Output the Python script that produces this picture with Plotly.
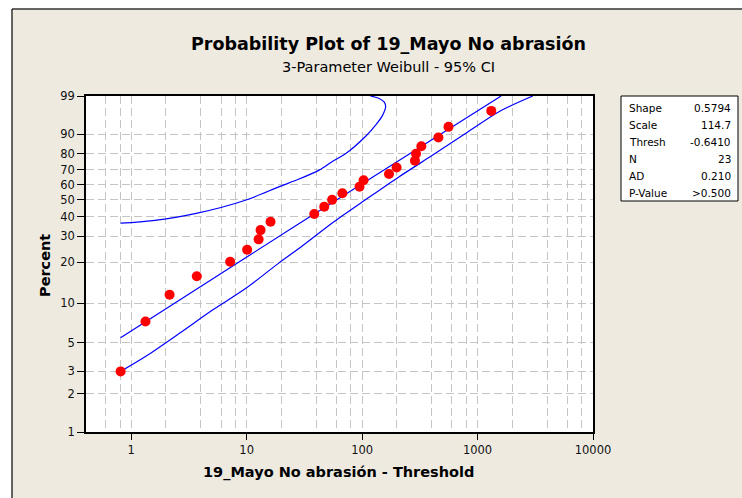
import numpy as np
import plotly.graph_objects as go

# ---- data ----
pct_ticks = [1, 2, 3, 5, 10, 20, 30, 40, 50, 60, 70, 80, 90, 99]
x_ticks = [1, 10, 100, 1000, 10000]
x_ticktext = ["1", "10", "100", "1000", "10000"]
x_minor_grid = [0.6, 0.8, 2, 4, 6, 8, 20, 40, 60, 80, 200, 400, 600, 800,
                2000, 4000, 6000, 8000]

data_x = [0.81, 1.33, 2.15, 3.7, 7.2, 10.1, 12.7, 13.2, 16.1, 38.5, 47.0, 55.0,
          67.5, 95.0, 103.0, 171.0, 199.0, 287.0, 293.0, 326.0, 458.0, 560.0, 1315.0]
data_pct = [2.99, 7.26, 11.54, 15.81, 20.09, 24.36, 28.63, 32.91, 37.18, 41.45,
            45.73, 50.00, 54.27, 58.55, 62.82, 67.09, 71.37, 75.64, 79.91, 84.19,
            88.46, 92.74, 97.01]

fit_x = [0.81, 28.1, 1600.0]
fit_pct = [5.46, 36.0, 99.0]

upper_x = [0.81, 1.54, 3.66, 9.9, 19.2, 28.1, 42.8, 54.8, 72.8, 106.9, 132.0,
           150.0, 160.0, 155.0, 139.0, 118.0]
upper_pct = [36.4, 37.8, 41.8, 49.9, 58.6, 63.5, 69.8, 75.1, 80.2, 88.9, 93.5,
             96.0, 97.8, 98.4, 98.8, 99.0]

lower_x = [0.81, 1.35, 2.62, 5.1, 10.0, 19.2, 28.1, 54.8, 106.9, 208.0, 406.0,
           792.0, 1545.0, 3008.0]
lower_pct = [2.99, 3.94, 5.9, 8.9, 13.0, 19.8, 24.7, 36.4, 50.0, 65.1, 79.0,
             90.3, 96.9, 99.0]

stat_labels = ["Shape", "Scale", "Thresh", "N", "AD", "P-Value"]
stat_values = ["0.5794", "114.7", "-0.6410", "23", "0.210", "&gt;0.500"]

title = "Probability Plot of 19_Mayo No abrasión"
subtitle = "3-Parameter Weibull - 95% CI"
x_title = "19_Mayo No abrasión - Threshold"
y_title = "Percent"


# Weibull probability scale for the y axis
def wb(p):
    p = np.asarray(p, dtype=float) / 100.0
    return np.log(-np.log(1.0 - p))


FONT = "DejaVu Sans"
W, H = 742, 498
L, R, T, B = 86, 593, 96, 432  # plot area pixel edges


def px(x):
    return (x - L) / (R - L)


def py(y):
    return (B - y) / (B - T)


fig = go.Figure()
blue = "#0000FF"
fig.add_trace(go.Scatter(x=upper_x, y=wb(upper_pct), mode="lines",
                         line=dict(color=blue, width=1.2, shape="spline", smoothing=0.8),
                         hoverinfo="skip"))
fig.add_trace(go.Scatter(x=fit_x, y=wb(fit_pct), mode="lines",
                         line=dict(color=blue, width=1.2), hoverinfo="skip"))
fig.add_trace(go.Scatter(x=lower_x, y=wb(lower_pct), mode="lines",
                         line=dict(color=blue, width=1.2, shape="spline", smoothing=0.8),
                         hoverinfo="skip"))
fig.add_trace(go.Scatter(x=data_x, y=wb(data_pct), mode="markers",
                         marker=dict(color="#FF0000", size=10, line=dict(width=0))))

ylo, yhi = float(wb(1)), float(wb(99))
grid = "#C4C4C4"
gdash = "8px,4px"
fig.update_xaxes(type="log", range=[np.log10(0.406), 4.0],
                 tickvals=x_ticks, ticktext=x_ticktext, ticks="outside",
                 ticklen=6, tickcolor="black", tickwidth=1,
                 showgrid=True, gridcolor=grid, griddash=gdash, gridwidth=1,
                 minor=dict(tickvals=x_minor_grid, showgrid=True, gridcolor=grid,
                            griddash=gdash, gridwidth=1, ticks=""),
                 showline=True, linecolor="black", linewidth=1.5, mirror=True,
                 zeroline=False,
                 tickfont=dict(family=FONT, size=11.5, color="#111"))
fig.update_yaxes(range=[ylo, yhi], tickvals=list(wb(pct_ticks)),
                 ticktext=[str(v) for v in pct_ticks], ticks="outside",
                 ticklen=7, tickcolor="black", tickwidth=1,
                 showgrid=True, gridcolor=grid, griddash=gdash, gridwidth=1,
                 showline=True, linecolor="black", linewidth=1.5, mirror=True,
                 zeroline=False,
                 tickfont=dict(family=FONT, size=11.5, color="#111"))

bg = "#EEEAE0"
shapes = [
    # area outside the outer frame (white)
    dict(type="rect", xref="paper", yref="paper", x0=-1, x1=2, y0=py(9), y1=2,
         fillcolor="white", line=dict(width=0), layer="below"),
    dict(type="rect", xref="paper", yref="paper", x0=-1, x1=px(12), y0=-1, y1=2,
         fillcolor="white", line=dict(width=0), layer="below"),
    # outer frame lines
    dict(type="line", xref="paper", yref="paper", x0=px(12), x1=2, y0=py(9), y1=py(9),
         line=dict(color="#333", width=1.5)),
    dict(type="line", xref="paper", yref="paper", x0=px(12), x1=px(12), y0=-1, y1=py(9),
         line=dict(color="#333", width=1.5)),
    # stats box
    dict(type="rect", xref="paper", yref="paper", x0=px(621), x1=px(738),
         y0=py(201), y1=py(96), fillcolor="white", line=dict(color="black", width=1)),
]

annotations = [
    dict(text=f"<b>{title}</b>", x=px(388), y=py(44), xref="paper", yref="paper",
         showarrow=False, xanchor="center", yanchor="middle",
         font=dict(family=FONT, size=17.5, color="black")),
    dict(text=subtitle, x=px(388), y=py(67), xref="paper", yref="paper",
         showarrow=False, xanchor="center", yanchor="middle",
         font=dict(family=FONT, size=14.5, color="black")),
    dict(text=f"<b>{x_title}</b>", x=px(338), y=py(472), xref="paper", yref="paper",
         showarrow=False, xanchor="center", yanchor="middle",
         font=dict(family=FONT, size=14.5, color="black")),
    dict(text=f"<b>{y_title}</b>", x=px(45), y=py(266), xref="paper", yref="paper",
         showarrow=False, xanchor="center", yanchor="middle", textangle=-90,
         font=dict(family=FONT, size=14.5, color="black")),
]
rows_y = [108, 125, 142, 159, 176, 193]
for lab, val, yy in zip(stat_labels, stat_values, rows_y):
    annotations.append(dict(text=lab, x=px(627), y=py(yy), xref="paper", yref="paper",
                            showarrow=False, xanchor="left", yanchor="middle",
                            font=dict(family=FONT, size=10.5, color="black")))
    annotations.append(dict(text=val, x=px(733), y=py(yy), xref="paper", yref="paper",
                            showarrow=False, xanchor="right", yanchor="middle",
                            font=dict(family=FONT, size=10.5, color="black")))

fig.update_layout(width=W, height=H, margin=dict(l=L, r=W - R, t=T, b=H - B),
                  paper_bgcolor=bg, plot_bgcolor="white", showlegend=False,
                  shapes=shapes, annotations=annotations)

fig.write_html("out.html", config={"displayModeBar": False},
               post_script="document.body.style.margin='0';document.body.style.padding='0';")
